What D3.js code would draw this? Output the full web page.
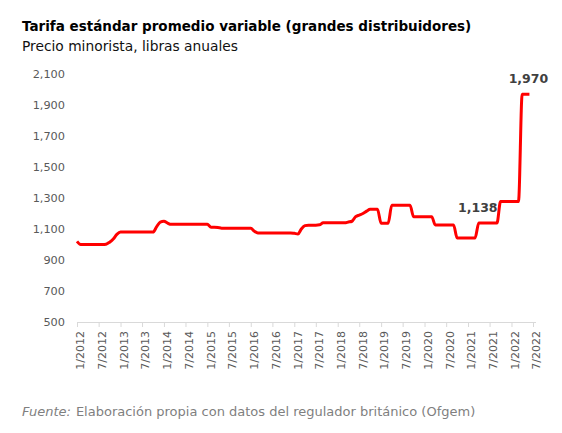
<!DOCTYPE html>
<html>
<head>
<meta charset="utf-8">
<script src="https://cdn.jsdelivr.net/npm/d3@7"></script>
<style>
  body { margin: 0; background: #fff; }
  svg { display: block; font-family: "DejaVu Sans", sans-serif; }
</style>
</head>
<body>
<div id="chart"></div>
<script>
// Monthly values, Jan 2012 .. Jun 2022 (GBP per year)
var startMonth = "2012-01";
var values2012 = [1020, 1000, 1000, 1000, 1000, 1000, 1000, 1000, 1002, 1015, 1035, 1065];
var values2013 = [1080, 1080, 1080, 1080, 1080, 1080, 1080, 1080, 1080, 1080, 1115, 1145];
var values2014 = [1150, 1138, 1130, 1130, 1130, 1130, 1130, 1130, 1130, 1130, 1130, 1130];
var values2015 = [1130, 1112, 1112, 1110, 1105, 1105, 1105, 1105, 1105, 1105, 1105, 1105];
var values2016 = [1105, 1085, 1075, 1075, 1075, 1075, 1075, 1075, 1075, 1075, 1075, 1075];
var values2017 = [1072, 1068, 1100, 1122, 1125, 1125, 1125, 1127, 1140, 1140, 1140, 1140];
var values2018 = [1140, 1140, 1140, 1145, 1150, 1180, 1190, 1200, 1215, 1227, 1227, 1227];
var values2019 = [1137, 1137, 1137, 1254, 1254, 1254, 1254, 1254, 1254, 1179, 1179, 1179];
var values2020 = [1179, 1179, 1179, 1126, 1126, 1126, 1126, 1126, 1126, 1042, 1042, 1042];
var values2021 = [1042, 1042, 1042, 1138, 1138, 1138, 1138, 1138, 1138, 1277, 1277, 1277];
var values2022 = [1277, 1277, 1277, 1970, 1970, 1970];

var labelledMonths = ["2021-04", "2022-06"];
var yTicks = [500, 700, 900, 1100, 1300, 1500, 1700, 1900, 2100];

var title = "Tarifa estándar promedio variable (grandes distribuidores)";
var subtitle = "Precio minorista, libras anuales";
var sourceLead = "Fuente:";
var sourceText = "Elaboración propia con datos del regulador británico (Ofgem)";

var width = 562, height = 433;
var margin = {top: 74, right: 29, bottom: 111, left: 77};

var parseMonth = d3.timeParse("%Y-%m");
var allValues = [].concat(values2012, values2013, values2014, values2015, values2016,
  values2017, values2018, values2019, values2020, values2021, values2022);
var data = allValues.map(function (v, i) {
  return {date: d3.timeMonth.offset(parseMonth(startMonth), i), value: v};
});

var svg = d3.select("#chart").append("svg")
  .attr("width", width)
  .attr("height", height);

var x = d3.scaleTime()
  .domain([parseMonth("2012-01"), parseMonth("2022-07")])
  .range([margin.left, width - margin.right]);

var y = d3.scaleLinear()
  .domain([500, 2100])
  .range([height - margin.bottom, margin.top]);

// titles
svg.append("text")
  .attr("x", 22).attr("y", 31)
  .style("font-size", "13.5px").style("font-weight", "bold").style("fill", "#000")
  .text(title);

svg.append("text")
  .attr("x", 22).attr("y", 51)
  .style("font-size", "13.8px").style("fill", "#111")
  .text(subtitle);

// y axis labels (no line)
svg.append("g")
  .selectAll("text")
  .data(yTicks)
  .enter().append("text")
  .attr("x", 65)
  .attr("y", function (d) { return y(d); })
  .attr("dy", "0.35em")
  .attr("text-anchor", "end")
  .style("font-size", "11.3px").style("fill", "#595959")
  .text(d3.format(","));

// x axis
var xAxis = d3.axisBottom(x)
  .ticks(d3.timeMonth.every(6))
  .tickSize(5)
  .tickFormat(function (d) { return (d.getMonth() + 1) + "/" + d.getFullYear(); });

var gx = svg.append("g")
  .attr("transform", "translate(0," + y(500) + ")")
  .call(xAxis);

gx.select(".domain")
  .attr("d", "M" + x.range()[0] + ",0.5H" + (x.range()[1] + 3))
  .attr("stroke", "#d9d9d9");
gx.selectAll(".tick line").attr("stroke", "#d9d9d9");
gx.selectAll(".tick text")
  .attr("transform", "rotate(-90)")
  .attr("text-anchor", "end")
  .attr("x", -9)
  .attr("y", 3)
  .attr("dy", "0.35em")
  .style("font-family", "DejaVu Sans, sans-serif")
  .style("font-size", "11px")
  .style("fill", "#595959");

// series line
var line = d3.line()
  .x(function (d) { return x(d.date); })
  .y(function (d) { return y(d.value); })
  .curve(d3.curveMonotoneX);

svg.append("path")
  .datum(data)
  .attr("fill", "none")
  .attr("stroke", "#ff0000")
  .attr("stroke-width", 3)
  .attr("stroke-linejoin", "round")
  .attr("d", line);

// data labels
var labelled = data.filter(function (d) {
  return labelledMonths.indexOf(d3.timeFormat("%Y-%m")(d.date)) >= 0;
});

svg.append("g")
  .selectAll("text")
  .data(labelled)
  .enter().append("text")
  .attr("x", function (d) { return x(d.date) - 1; })
  .attr("y", function (d) { return y(d.value) - 11; })
  .attr("text-anchor", "middle")
  .style("font-size", "12.5px").style("font-weight", "bold").style("fill", "#404040")
  .text(function (d) { return d3.format(",")(d.value); });

// source
var src = svg.append("text")
  .attr("x", 22).attr("y", 416)
  .style("font-size", "13px").style("fill", "#7f7f7f");
src.append("tspan").style("font-style", "italic").text(sourceLead);
src.append("tspan").attr("dx", 5).text(sourceText);
</script>
</body>
</html>
